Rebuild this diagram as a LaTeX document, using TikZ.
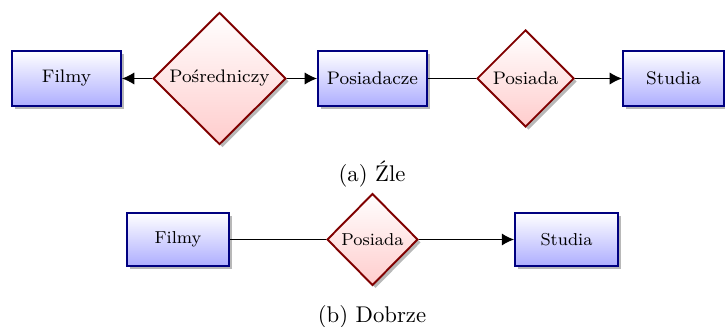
\documentclass[tikz,border=0pt]{standalone}
\usetikzlibrary{shapes.geometric,shadows,arrows.meta}
\begin{document}
\begin{tikzpicture}[x=0.44pt,y=-0.44pt,
  entity/.style={rectangle, draw=blue!50!black, line width=0.85pt,
    top color=white, bottom color=blue!32, inner sep=0pt,
    drop shadow={shadow xshift=1.3pt, shadow yshift=-1.3pt, fill=black!35, opacity=0.8}},
  relation/.style={diamond, aspect=1, draw=red!50!black, line width=0.85pt,
    top color=white, bottom color=red!20, inner sep=0pt,
    drop shadow={shadow xshift=1.3pt, shadow yshift=-1.3pt, fill=black!35, opacity=0.8}},
  conn/.style={line width=0.55pt, draw=black},
  tip/.style={-{Latex[length=5.4pt,width=5.4pt]}},
  caption/.style={anchor=base, font=\normalsize}]
\useasboundingbox (0,0) rectangle (725,327);

% upper diagram
\begin{scope}[every node/.append style={font=\footnotesize}]
  \node[entity, minimum width=48pt, minimum height=24.2pt] (f1) at (66.5,78.5) {Filmy};
  \node[relation, minimum width=58.5pt, minimum height=58.1pt] (p1) at (219.5,78.5) {Pośredniczy};
  \node[entity, minimum width=48pt, minimum height=24.2pt] (pa) at (372.5,78.5) {Posiadacze};
  \node[relation, minimum width=42.7pt, minimum height=42.7pt] (r1) at (525.5,78.5) {Posiada};
  \node[entity, minimum width=44.5pt, minimum height=24.2pt] (s1) at (673.5,78.5) {Studia};
\end{scope}
\draw[conn, tip] (p1) -- (f1);
\draw[conn, tip] (p1) -- (pa);
\draw[conn] (pa) -- (r1);
\draw[conn, tip] (r1) -- (s1);
\node[caption] (ca) at (372,182) {(a) Źle};

% lower diagram
\begin{scope}[every node/.append style={font=\fontsize{7.6}{9}\selectfont}]
  \node[entity, minimum width=44.9pt, minimum height=23.3pt] (f2) at (178,239.5) {Filmy};
  \node[relation, minimum width=40pt, minimum height=40.4pt] (r2) at (372.5,239.5) {Posiada};
  \node[entity, minimum width=45.3pt, minimum height=23.3pt] (s2) at (566.5,239.5) {Studia};
\end{scope}
\draw[conn] (f2) -- (r2);
\draw[conn, tip] (r2) -- (s2);
\node[caption] (cb) at (372,323) {(b) Dobrze};
\end{tikzpicture}
\end{document}
